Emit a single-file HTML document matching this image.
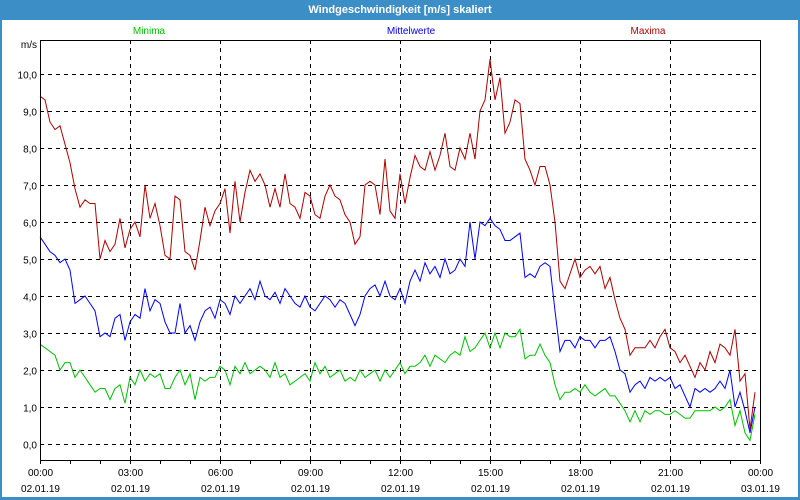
<!DOCTYPE html>
<html><head><meta charset="utf-8"><style>
html,body{margin:0;padding:0;width:800px;height:500px;overflow:hidden;background:#fff}
svg{display:block}
text{font-family:"Liberation Sans",sans-serif;font-size:10px}
</style></head><body>
<svg id="s" width="800" height="500" xmlns="http://www.w3.org/2000/svg">
<rect x="0" y="0" width="800" height="500" fill="#3c8fc6"/>
<rect x="2" y="20" width="796" height="477" fill="#fff"/>
<text x="400" y="13" fill="#fff" font-weight="bold" text-anchor="middle" style="font-size:11px">Windgeschwindigkeit [m/s] skaliert</text>
<text x="149" y="34" fill="#00c000" text-anchor="middle">Minima</text>
<text x="411" y="34" fill="#0000ff" text-anchor="middle">Mittelwerte</text>
<text x="648" y="34" fill="#b00000" text-anchor="middle">Maxima</text>
<text x="37" y="48" text-anchor="end">m/s</text>
<g id="g"></g>
<rect x="40.5" y="40.5" width="720" height="420" fill="none" stroke="#000"/>
</svg>
<script>
const NS="http://www.w3.org/2000/svg",g=document.getElementById('g');
function el(t,a,txt){const e=document.createElementNS(NS,t);for(const k in a)e.setAttribute(k,a[k]);if(txt!==undefined)e.textContent=txt;g.appendChild(e);return e;}
for(let v=0;v<=10;v++){const y=444-37*v+0.5;
 el('line',{x1:40,x2:760,y1:y,y2:y,stroke:'#000','stroke-dasharray':'4,4'});
 el('text',{x:37,y:y+4,'text-anchor':'end'},v.toFixed(1).replace('.',','));}
const labs=['00:00','03:00','06:00','09:00','12:00','15:00','18:00','21:00','00:00'];
for(let i=0;i<=8;i++){const x=40+90*i+0.5;
 if(i>0&&i<8)el('line',{x1:x,x2:x,y1:40,y2:460,stroke:'#000','stroke-dasharray':'4,4'});
 el('text',{x:x,y:476,'text-anchor':'middle'},labs[i]);
 el('text',{x:x,y:492,'text-anchor':'middle'},i==8?'03.01.19':'02.01.19');}
for(let h=0;h<=24;h++){const x=40+30*h+0.5;el('line',{x1:x,x2:x,y1:460,y2:464,stroke:'#000'});}
const R=[9.4,9.3,8.7,8.5,8.6,8.1,7.6,6.9,6.4,6.6,6.5,6.5,5.0,5.5,5.2,5.4,6.1,5.3,5.8,6.0,5.6,7.0,6.1,6.5,5.9,5.1,5.0,6.7,6.6,5.2,5.1,4.7,5.5,6.4,5.9,6.3,6.5,6.9,5.7,7.1,6.0,6.8,7.4,7.1,7.3,7.0,6.4,6.9,6.4,7.3,6.5,6.4,6.1,6.8,6.7,6.2,6.1,6.7,7.0,6.7,6.6,6.2,6.0,5.4,5.6,7.0,7.1,7.0,6.2,7.7,6.3,6.1,7.3,6.5,7.2,7.8,7.5,7.4,7.9,7.4,7.8,8.4,7.5,7.4,8.0,7.7,8.4,7.7,9.0,9.3,10.4,9.3,9.9,8.4,8.7,9.3,9.2,7.7,7.4,7.0,7.5,7.5,7.0,6.0,4.4,4.2,4.6,5.0,4.5,4.7,4.8,4.6,4.8,4.2,4.5,3.9,3.4,3.1,2.4,2.6,2.6,2.6,2.8,2.6,2.9,3.1,2.6,2.5,2.2,2.4,2.1,1.8,2.2,2.0,2.5,2.2,2.7,2.6,2.4,3.1,1.7,1.9,0.4,1.4];
const B=[5.6,5.4,5.2,5.1,4.9,5.0,4.7,3.8,3.9,4.0,3.8,3.6,2.9,3.0,2.9,3.4,3.5,2.8,3.3,3.5,3.4,4.2,3.6,3.9,3.8,3.3,3.0,3.0,3.8,3.0,3.2,2.8,3.3,3.6,3.7,3.4,3.9,3.8,3.5,4.0,3.8,4.0,4.2,3.9,4.4,4.0,3.9,4.1,3.8,4.2,4.0,3.8,3.7,4.0,3.7,3.6,3.8,4.0,3.9,3.7,3.9,3.8,3.5,3.2,3.5,4.0,4.2,4.3,4.0,4.4,4.0,3.9,4.2,3.8,4.4,4.7,4.4,4.9,4.6,4.8,4.5,5.0,4.6,4.7,5.0,4.8,6.0,5.0,6.0,5.9,6.1,5.9,5.8,5.5,5.5,5.6,5.7,4.5,4.6,4.5,4.8,4.9,4.8,3.6,2.5,2.8,2.8,2.6,2.9,2.8,2.8,2.6,2.8,2.8,2.9,2.5,2.0,1.9,1.4,1.6,1.7,1.5,1.8,1.7,1.8,1.7,1.8,1.5,1.6,1.3,1.0,1.5,1.4,1.5,1.4,1.5,1.7,1.5,2.0,1.0,1.4,0.9,0.3,1.0];
const G=[2.7,2.6,2.5,2.4,2.0,2.2,2.2,1.8,2.0,1.8,1.6,1.4,1.5,1.5,1.2,1.5,1.6,1.1,1.8,1.6,2.0,1.7,1.9,1.8,1.9,1.5,1.5,1.8,2.0,1.6,1.9,1.2,1.8,1.7,1.8,1.8,2.1,2.0,1.6,2.1,1.9,2.2,1.9,2.0,2.1,2.0,1.8,2.2,1.8,1.9,1.6,1.7,1.8,1.9,1.7,2.2,1.9,2.1,1.8,1.9,2.0,1.7,1.8,1.7,2.0,1.8,1.9,2.0,1.7,2.0,1.8,2.0,2.2,1.9,2.1,2.1,2.2,2.4,2.1,2.4,2.3,2.2,2.4,2.5,2.4,2.9,2.5,2.6,2.8,3.0,2.6,3.0,2.6,3.0,2.9,2.9,3.1,2.3,2.4,2.4,2.7,2.4,2.2,1.6,1.2,1.4,1.4,1.5,1.4,1.6,1.4,1.3,1.4,1.5,1.3,1.3,1.1,0.9,0.6,0.9,0.6,0.9,0.8,0.9,0.9,0.8,0.8,0.9,0.8,0.7,0.7,0.9,0.9,0.9,0.9,1.0,0.9,1.0,1.2,0.5,0.9,0.3,0.1,0.8];
function line(d,c){el('polyline',{points:d.map((v,i)=>(40+5*i)+','+(444-37*v).toFixed(1)).join(' '),fill:'none',stroke:c,'stroke-width':1});}
line(G,'#00c000');line(B,'#0000ff');line(R,'#b00000');
</script>
</body></html>
